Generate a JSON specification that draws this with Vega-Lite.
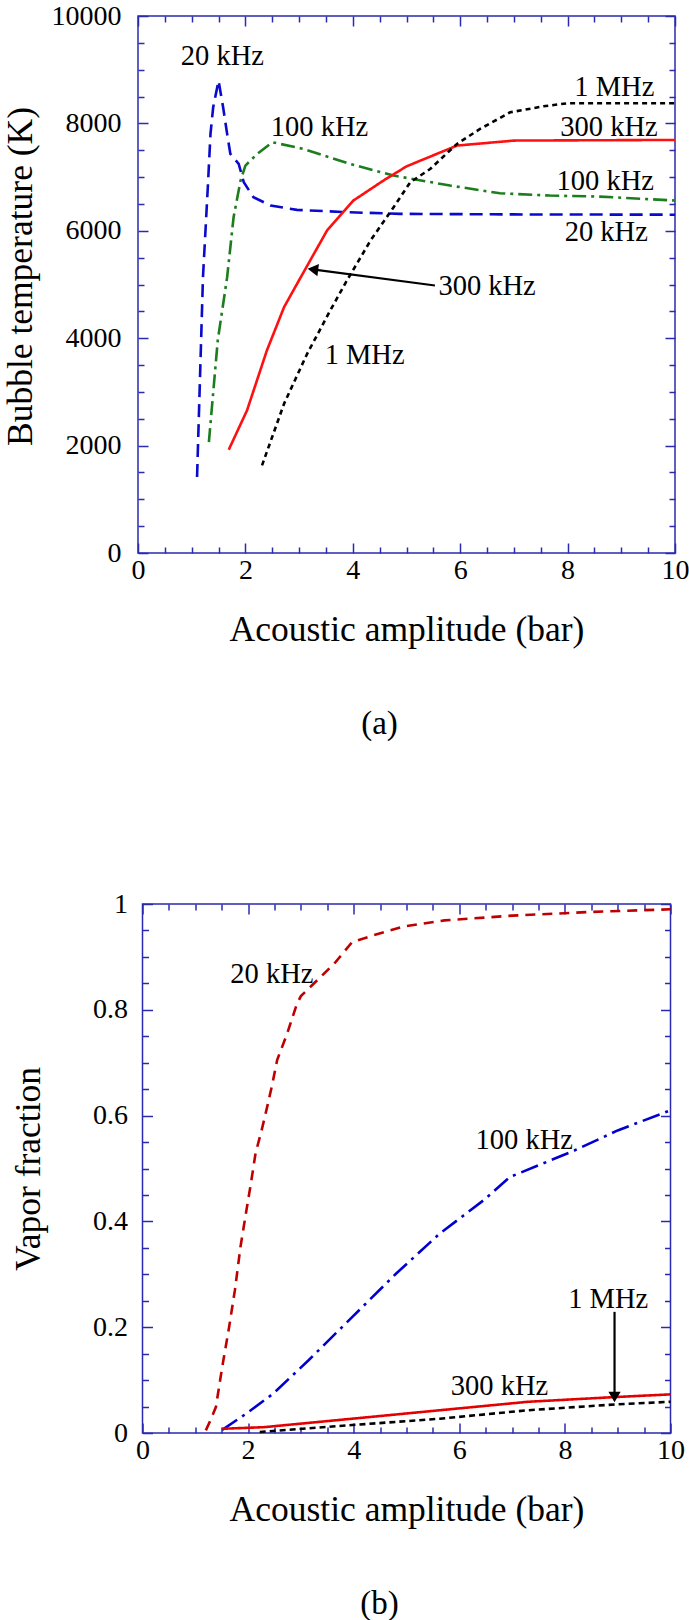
{
  "$schema": "https://vega.github.io/schema/vega-lite/v6.json",
  "padding": {"left": 2, "top": 1, "right": 0, "bottom": 5},
  "bounds": "flush",
  "center": true,
  "spacing": 351,
  "background": "white",
  "resolve": {"scale": {"color": "independent", "strokeDash": "independent"}},
  "config": {
    "font": "Liberation Serif",
    "view": {"stroke": "#2a2ab0", "strokeWidth": 1.5},
    "axis": {
      "labelFont": "Liberation Serif", "labelFontSize": 28, "labelColor": "#000000",
      "titleFont": "Liberation Serif", "titleFontSize": 35.5, "titleFontWeight": "normal", "titleColor": "#000000",
      "domain": false, "grid": false, "tickColor": "#2a2ab0", "tickWidth": 1.5,
      "labelFlush": false, "labelOverlap": false, "labelBound": false
    },
    "title": {"font": "Liberation Serif", "fontSize": 33, "fontWeight": "normal", "color": "#000000"}
  },
  "datasets": {
    "aLines": [
      {"series": "20 kHz", "amp": 1.10, "value": 1414},
      {"series": "20 kHz", "amp": 1.21, "value": 5136},
      {"series": "20 kHz", "amp": 1.30, "value": 6811},
      {"series": "20 kHz", "amp": 1.35, "value": 7804},
      {"series": "20 kHz", "amp": 1.40, "value": 8300},
      {"series": "20 kHz", "amp": 1.50, "value": 8796},
      {"series": "20 kHz", "amp": 1.585, "value": 8300},
      {"series": "20 kHz", "amp": 1.66, "value": 7804},
      {"series": "20 kHz", "amp": 1.72, "value": 7432},
      {"series": "20 kHz", "amp": 1.875, "value": 7246},
      {"series": "20 kHz", "amp": 1.97, "value": 6904},
      {"series": "20 kHz", "amp": 2.15, "value": 6625},
      {"series": "20 kHz", "amp": 2.47, "value": 6470},
      {"series": "20 kHz", "amp": 2.96, "value": 6390},
      {"series": "20 kHz", "amp": 3.89, "value": 6346},
      {"series": "20 kHz", "amp": 4.88, "value": 6316},
      {"series": "20 kHz", "amp": 7.0, "value": 6305},
      {"series": "20 kHz", "amp": 10.0, "value": 6300},
      {"series": "100 kHz", "amp": 1.32, "value": 2066},
      {"series": "100 kHz", "amp": 1.485, "value": 3958},
      {"series": "100 kHz", "amp": 1.66, "value": 5136},
      {"series": "100 kHz", "amp": 1.78, "value": 6252},
      {"series": "100 kHz", "amp": 1.91, "value": 6935},
      {"series": "100 kHz", "amp": 2.0, "value": 7214},
      {"series": "100 kHz", "amp": 2.22, "value": 7432},
      {"series": "100 kHz", "amp": 2.50, "value": 7649},
      {"series": "100 kHz", "amp": 3.08, "value": 7525},
      {"series": "100 kHz", "amp": 3.95, "value": 7246},
      {"series": "100 kHz", "amp": 4.76, "value": 7028},
      {"series": "100 kHz", "amp": 5.81, "value": 6842},
      {"series": "100 kHz", "amp": 6.74, "value": 6699},
      {"series": "100 kHz", "amp": 7.67, "value": 6656},
      {"series": "100 kHz", "amp": 8.6, "value": 6637},
      {"series": "100 kHz", "amp": 10.0, "value": 6563},
      {"series": "300 kHz", "amp": 1.69, "value": 1924},
      {"series": "300 kHz", "amp": 2.03, "value": 2655},
      {"series": "300 kHz", "amp": 2.40, "value": 3772},
      {"series": "300 kHz", "amp": 2.72, "value": 4578},
      {"series": "300 kHz", "amp": 3.05, "value": 5170},
      {"series": "300 kHz", "amp": 3.52, "value": 6005},
      {"series": "300 kHz", "amp": 4.01, "value": 6563},
      {"series": "300 kHz", "amp": 4.57, "value": 6935},
      {"series": "300 kHz", "amp": 5.0, "value": 7200},
      {"series": "300 kHz", "amp": 5.94, "value": 7587},
      {"series": "300 kHz", "amp": 7.0, "value": 7680},
      {"series": "300 kHz", "amp": 10.0, "value": 7692},
      {"series": "1 MHz", "amp": 2.31, "value": 1632},
      {"series": "1 MHz", "amp": 2.72, "value": 2780},
      {"series": "1 MHz", "amp": 3.15, "value": 3710},
      {"series": "1 MHz", "amp": 3.58, "value": 4516},
      {"series": "1 MHz", "amp": 3.89, "value": 5074},
      {"series": "1 MHz", "amp": 4.33, "value": 5819},
      {"series": "1 MHz", "amp": 4.76, "value": 6439},
      {"series": "1 MHz", "amp": 5.07, "value": 6904},
      {"series": "1 MHz", "amp": 5.44, "value": 7150},
      {"series": "1 MHz", "amp": 5.94, "value": 7618},
      {"series": "1 MHz", "amp": 6.37, "value": 7897},
      {"series": "1 MHz", "amp": 6.93, "value": 8206},
      {"series": "1 MHz", "amp": 7.55, "value": 8318},
      {"series": "1 MHz", "amp": 7.99, "value": 8374},
      {"series": "1 MHz", "amp": 10.0, "value": 8374}
    ],
    "aLabels": [
      {"text": "20 kHz", "amp": 1.57, "value": 9261},
      {"text": "100 kHz", "amp": 3.38, "value": 7927},
      {"text": "1 MHz", "amp": 8.87, "value": 8672},
      {"text": "300 kHz", "amp": 8.77, "value": 7927},
      {"text": "100 kHz", "amp": 8.70, "value": 6935},
      {"text": "20 kHz", "amp": 8.72, "value": 5973},
      {"text": "300 kHz", "amp": 6.50, "value": 4981},
      {"text": "1 MHz", "amp": 4.22, "value": 3679}
    ],
    "aArrow": [{"amp": 5.53, "value": 4981, "amp2": 3.25, "value2": 5283}],
    "aHead": [{"amp": 3.29, "value": 5277}],
    "bLines": [
      {"series": "20 kHz", "amp": 1.2, "value": 0.005},
      {"series": "20 kHz", "amp": 1.3, "value": 0.027},
      {"series": "20 kHz", "amp": 1.39, "value": 0.049},
      {"series": "20 kHz", "amp": 1.51, "value": 0.125},
      {"series": "20 kHz", "amp": 1.64, "value": 0.2},
      {"series": "20 kHz", "amp": 1.75, "value": 0.27},
      {"series": "20 kHz", "amp": 1.856, "value": 0.352},
      {"series": "20 kHz", "amp": 1.95, "value": 0.41},
      {"series": "20 kHz", "amp": 2.05, "value": 0.47},
      {"series": "20 kHz", "amp": 2.14, "value": 0.528},
      {"series": "20 kHz", "amp": 2.27, "value": 0.578},
      {"series": "20 kHz", "amp": 2.36, "value": 0.616},
      {"series": "20 kHz", "amp": 2.46, "value": 0.66},
      {"series": "20 kHz", "amp": 2.55, "value": 0.705},
      {"series": "20 kHz", "amp": 2.74, "value": 0.755},
      {"series": "20 kHz", "amp": 2.92, "value": 0.81},
      {"series": "20 kHz", "amp": 3.0, "value": 0.826},
      {"series": "20 kHz", "amp": 3.63, "value": 0.887},
      {"series": "20 kHz", "amp": 3.97, "value": 0.928},
      {"series": "20 kHz", "amp": 4.38, "value": 0.941},
      {"series": "20 kHz", "amp": 4.97, "value": 0.958},
      {"series": "20 kHz", "amp": 5.72, "value": 0.969},
      {"series": "20 kHz", "amp": 7.0, "value": 0.978},
      {"series": "20 kHz", "amp": 8.5, "value": 0.985},
      {"series": "20 kHz", "amp": 10.0, "value": 0.99},
      {"series": "100 kHz", "amp": 1.51, "value": 0.006},
      {"series": "100 kHz", "amp": 1.97, "value": 0.037},
      {"series": "100 kHz", "amp": 2.47, "value": 0.074},
      {"series": "100 kHz", "amp": 3.14, "value": 0.137},
      {"series": "100 kHz", "amp": 3.97, "value": 0.219},
      {"series": "100 kHz", "amp": 4.80, "value": 0.301},
      {"series": "100 kHz", "amp": 5.63, "value": 0.377},
      {"series": "100 kHz", "amp": 6.46, "value": 0.44},
      {"series": "100 kHz", "amp": 6.96, "value": 0.484},
      {"series": "100 kHz", "amp": 8.18, "value": 0.534},
      {"series": "100 kHz", "amp": 9.0, "value": 0.572},
      {"series": "100 kHz", "amp": 10.0, "value": 0.61},
      {"series": "300 kHz", "amp": 1.51, "value": 0.008},
      {"series": "300 kHz", "amp": 2.3, "value": 0.011},
      {"series": "300 kHz", "amp": 3.97, "value": 0.027},
      {"series": "300 kHz", "amp": 5.63, "value": 0.043},
      {"series": "300 kHz", "amp": 7.30, "value": 0.059},
      {"series": "300 kHz", "amp": 8.96, "value": 0.068},
      {"series": "300 kHz", "amp": 10.0, "value": 0.073},
      {"series": "1 MHz", "amp": 2.22, "value": 0.002},
      {"series": "1 MHz", "amp": 3.97, "value": 0.015},
      {"series": "1 MHz", "amp": 5.63, "value": 0.027},
      {"series": "1 MHz", "amp": 7.30, "value": 0.043},
      {"series": "1 MHz", "amp": 8.96, "value": 0.054},
      {"series": "1 MHz", "amp": 10.0, "value": 0.059}
    ],
    "bLabels": [
      {"text": "20 kHz", "amp": 2.45, "value": 0.868},
      {"text": "100 kHz", "amp": 7.23, "value": 0.553},
      {"text": "1 MHz", "amp": 8.82, "value": 0.254},
      {"text": "300 kHz", "amp": 6.76, "value": 0.089}
    ],
    "bArrow": [{"amp": 8.94, "value": 0.229, "amp2": 8.94, "value2": 0.07}],
    "bHead": [{"amp": 8.94, "value": 0.068}]
  },
  "vconcat": [
    {
      "width": 537, "height": 537,
      "title": {"text": "(a)", "orient": "bottom", "offset": 60, "dx": -27},
      "resolve": {"axis": {"x": "independent", "y": "independent"}},
      "layer": [
        {
          "data": {"name": "aLines"},
          "mark": {"type": "line", "strokeWidth": 2.6, "strokeCap": "butt"},
          "encoding": {
            "x": {"field": "amp", "type": "quantitative", "scale": {"domain": [0, 10], "nice": false},
              "axis": {"orient": "bottom", "title": "Acoustic amplitude (bar)", "titlePadding": 24,
                "values": [0,0.5,1,1.5,2,2.5,3,3.5,4,4.5,5,5.5,6,6.5,7,7.5,8,8.5,9,9.5,10],
                "tickSize": {"condition": {"test": "round(datum.value*2) % 4 === 0", "value": -10}, "value": -6},
                "labelPadding": 13,
                "labelExpr": "round(datum.value*2) % 4 === 0 ? format(datum.value, 'd') : ''"}},
            "y": {"field": "value", "type": "quantitative", "scale": {"domain": [0, 10000], "nice": false},
              "axis": {"orient": "left", "title": "Bubble temperature (K)", "titlePadding": 13, "titleY": 260,
                "values": [0,500,1000,1500,2000,2500,3000,3500,4000,4500,5000,5500,6000,6500,7000,7500,8000,8500,9000,9500,10000],
                "tickSize": {"condition": {"test": "round(datum.value) % 2000 === 0", "value": -10}, "value": -6},
                "labelPadding": 27,
                "labelExpr": "round(datum.value) % 2000 === 0 ? format(datum.value, 'd') : ''"}},
            "color": {"field": "series", "type": "nominal", "legend": null,
              "scale": {"domain": ["20 kHz", "100 kHz", "300 kHz", "1 MHz"], "range": ["#0a0acc", "#1b7d1b", "#ff1010", "#000000"]}},
            "strokeDash": {"field": "series", "type": "nominal", "legend": null,
              "scale": {"domain": ["20 kHz", "100 kHz", "300 kHz", "1 MHz"], "range": [[13, 7], [14, 5, 3, 5], [1, 0], [5, 4]]}}
          }
        },
        {
          "data": {"name": "aLabels"},
          "mark": {"type": "text", "font": "Liberation Serif", "fontSize": 28.5, "color": "#000000", "align": "center", "baseline": "middle"},
          "encoding": {
            "x": {"field": "amp", "type": "quantitative", "scale": {"domain": [0, 10], "nice": false},
              "axis": {"orient": "top", "title": null, "labels": false,
                "values": [0,0.5,1,1.5,2,2.5,3,3.5,4,4.5,5,5.5,6,6.5,7,7.5,8,8.5,9,9.5,10],
                "tickSize": {"condition": {"test": "round(datum.value*2) % 4 === 0", "value": -10}, "value": -6}}},
            "y": {"field": "value", "type": "quantitative", "scale": {"domain": [0, 10000], "nice": false},
              "axis": {"orient": "right", "title": null, "labels": false,
                "values": [0,500,1000,1500,2000,2500,3000,3500,4000,4500,5000,5500,6000,6500,7000,7500,8000,8500,9000,9500,10000],
                "tickSize": {"condition": {"test": "round(datum.value) % 2000 === 0", "value": -10}, "value": -6}}},
            "text": {"field": "text"}
          }
        },
        {
          "data": {"name": "aArrow"},
          "mark": {"type": "rule", "color": "#000000", "strokeWidth": 2.2},
          "encoding": {
            "x": {"field": "amp", "type": "quantitative", "axis": null},
            "y": {"field": "value", "type": "quantitative", "axis": null},
            "x2": {"field": "amp2"},
            "y2": {"field": "value2"}
          }
        },
        {
          "data": {"name": "aHead"},
          "mark": {"type": "point", "shape": "triangle", "angle": 277, "filled": true, "color": "#000000", "size": 150, "opacity": 1},
          "encoding": {
            "x": {"field": "amp", "type": "quantitative", "axis": null},
            "y": {"field": "value", "type": "quantitative", "axis": null}
          }
        }
      ]
    },
    {
      "width": 528, "height": 529,
      "title": {"text": "(b)", "orient": "bottom", "offset": 60, "dx": -27},
      "resolve": {"axis": {"x": "independent", "y": "independent"}},
      "layer": [
        {
          "data": {"name": "bLines"},
          "mark": {"type": "line", "strokeWidth": 2.6, "strokeCap": "butt"},
          "encoding": {
            "x": {"field": "amp", "type": "quantitative", "scale": {"domain": [0, 10], "nice": false},
              "axis": {"orient": "bottom", "title": "Acoustic amplitude (bar)", "titlePadding": 24,
                "values": [0,0.5,1,1.5,2,2.5,3,3.5,4,4.5,5,5.5,6,6.5,7,7.5,8,8.5,9,9.5,10],
                "tickSize": {"condition": {"test": "round(datum.value*2) % 4 === 0", "value": -10}, "value": -6},
                "labelPadding": 13,
                "labelExpr": "round(datum.value*2) % 4 === 0 ? format(datum.value, 'd') : ''"}},
            "y": {"field": "value", "type": "quantitative", "scale": {"domain": [0, 1], "nice": false},
              "axis": {"orient": "left", "title": "Vapor fraction", "titlePadding": 46,
                "values": [0,0.05,0.1,0.15,0.2,0.25,0.3,0.35,0.4,0.45,0.5,0.55,0.6,0.65,0.7,0.75,0.8,0.85,0.9,0.95,1],
                "tickSize": {"condition": {"test": "round(datum.value*20) % 4 === 0", "value": -10}, "value": -6},
                "labelPadding": 25,
                "labelExpr": "round(datum.value*20) % 4 === 0 ? (datum.value < 0.001 ? '0' : datum.value > 0.999 ? '1' : format(datum.value, '.1f')) : ''"}},
            "color": {"field": "series", "type": "nominal", "legend": null,
              "scale": {"domain": ["20 kHz", "100 kHz", "300 kHz", "1 MHz"], "range": ["#c00000", "#0000d0", "#e30000", "#000000"]}},
            "strokeDash": {"field": "series", "type": "nominal", "legend": null,
              "scale": {"domain": ["20 kHz", "100 kHz", "300 kHz", "1 MHz"], "range": [[10, 7], [18, 6, 3, 6], [1, 0], [6, 4]]}}
          }
        },
        {
          "data": {"name": "bLabels"},
          "mark": {"type": "text", "font": "Liberation Serif", "fontSize": 28.5, "color": "#000000", "align": "center", "baseline": "middle"},
          "encoding": {
            "x": {"field": "amp", "type": "quantitative", "scale": {"domain": [0, 10], "nice": false},
              "axis": {"orient": "top", "title": null, "labels": false,
                "values": [0,0.5,1,1.5,2,2.5,3,3.5,4,4.5,5,5.5,6,6.5,7,7.5,8,8.5,9,9.5,10],
                "tickSize": {"condition": {"test": "round(datum.value*2) % 4 === 0", "value": -10}, "value": -6}}},
            "y": {"field": "value", "type": "quantitative", "scale": {"domain": [0, 1], "nice": false},
              "axis": {"orient": "right", "title": null, "labels": false,
                "values": [0,0.05,0.1,0.15,0.2,0.25,0.3,0.35,0.4,0.45,0.5,0.55,0.6,0.65,0.7,0.75,0.8,0.85,0.9,0.95,1],
                "tickSize": {"condition": {"test": "round(datum.value*20) % 4 === 0", "value": -10}, "value": -6}}},
            "text": {"field": "text"}
          }
        },
        {
          "data": {"name": "bArrow"},
          "mark": {"type": "rule", "color": "#000000", "strokeWidth": 2.2},
          "encoding": {
            "x": {"field": "amp", "type": "quantitative", "axis": null},
            "y": {"field": "value", "type": "quantitative", "axis": null},
            "x2": {"field": "amp2"},
            "y2": {"field": "value2"}
          }
        },
        {
          "data": {"name": "bHead"},
          "mark": {"type": "point", "shape": "triangle-down", "filled": true, "color": "#000000", "size": 150, "opacity": 1},
          "encoding": {
            "x": {"field": "amp", "type": "quantitative", "axis": null},
            "y": {"field": "value", "type": "quantitative", "axis": null}
          }
        }
      ]
    }
  ]
}
